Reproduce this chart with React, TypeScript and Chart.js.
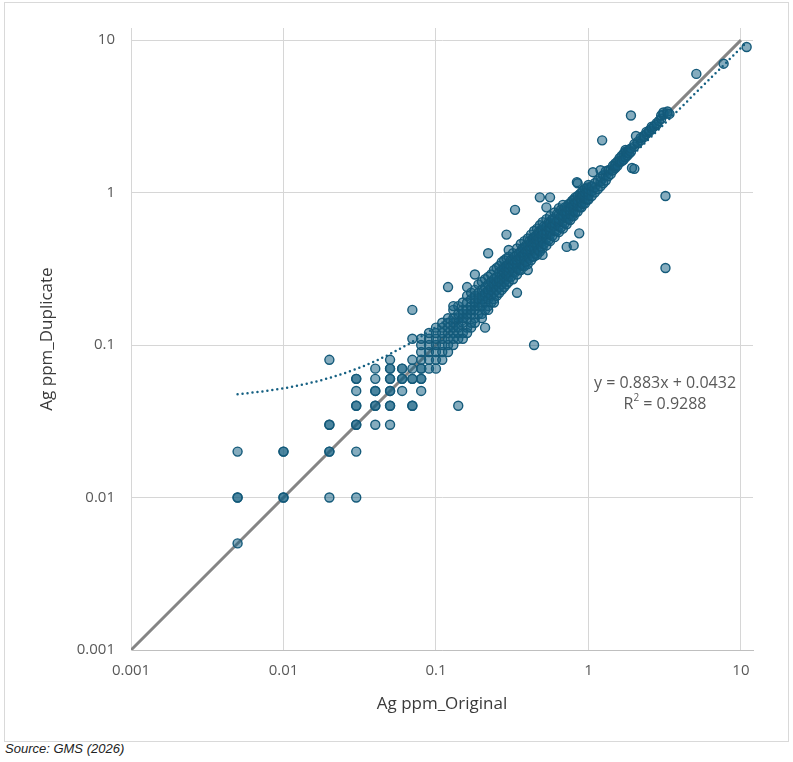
import React from 'react'
import { Chart, registerables } from 'chart.js'

Chart.register(...registerables)

const fontFamily = '"Open Sans", "DejaVu Sans", sans-serif'

// axis ticks (log scale, decades only)
const axisTicks = [0.001, 0.01, 0.1, 1, 10]
const tickLabels = ['0.001', '0.01', '0.1', '1', '10']
const axisMin = 0.001
const axisMax = 12

// low values reported on a coarse lab grid
const lowGridPoints: [number, number][] = [
  [0.005, 0.005], [0.005, 0.01], [0.005, 0.01], [0.005, 0.02],
  [0.01, 0.01], [0.01, 0.01], [0.01, 0.02], [0.01, 0.02],
  [0.02, 0.01], [0.02, 0.02], [0.02, 0.02], [0.02, 0.03], [0.02, 0.03], [0.02, 0.08],
  [0.03, 0.01], [0.03, 0.02], [0.03, 0.03], [0.03, 0.03], [0.03, 0.04], [0.03, 0.04],
  [0.03, 0.05], [0.03, 0.06], [0.03, 0.06],
  [0.04, 0.03], [0.04, 0.04], [0.04, 0.04], [0.04, 0.05], [0.04, 0.05], [0.04, 0.06], [0.04, 0.07],
  [0.05, 0.03], [0.05, 0.04], [0.05, 0.04], [0.05, 0.05], [0.05, 0.05], [0.05, 0.06], [0.05, 0.06],
  [0.05, 0.07], [0.05, 0.07], [0.05, 0.08],
  [0.06, 0.05], [0.06, 0.06], [0.06, 0.06], [0.06, 0.07], [0.06, 0.07],
  [0.07, 0.04], [0.07, 0.04], [0.07, 0.06], [0.07, 0.06], [0.07, 0.07], [0.07, 0.08],
  [0.08, 0.05], [0.08, 0.06], [0.08, 0.07],
]

// main population: original value -> duplicate values
const bandPoints: [number, number[]][] = [
  [0.08, [0.08, 0.09, 0.1, 0.07, 0.11, 0.06]],
  [0.09, [0.08, 0.09, 0.1, 0.11, 0.12, 0.07]],
  [0.1, [0.08, 0.09, 0.1, 0.11, 0.12, 0.13, 0.07]],
  [0.11, [0.09, 0.1, 0.11, 0.12, 0.13, 0.14, 0.08]],
  [0.12, [0.1, 0.11, 0.12, 0.13, 0.14, 0.15, 0.09]],
  [0.13, [0.1, 0.12, 0.13, 0.14, 0.15, 0.17, 0.11]],
  [0.14, [0.11, 0.12, 0.14, 0.15, 0.16, 0.18, 0.13]],
  [0.15, [0.12, 0.14, 0.15, 0.16, 0.17, 0.19, 0.11]],
  [0.16, [0.13, 0.15, 0.16, 0.17, 0.19, 0.21, 0.12]],
  [0.17, [0.14, 0.16, 0.17, 0.18, 0.2, 0.22, 0.13]],
  [0.18, [0.15, 0.17, 0.18, 0.19, 0.21, 0.23, 0.14]],
  [0.19, [0.16, 0.18, 0.19, 0.2, 0.22, 0.25]],
  [0.2, [0.16, 0.18, 0.2, 0.21, 0.23, 0.26, 0.15]],
  [0.21, [0.17, 0.19, 0.21, 0.22, 0.24, 0.27]],
  [0.22, [0.18, 0.2, 0.22, 0.23, 0.25, 0.28, 0.17]],
  [0.23, [0.19, 0.21, 0.23, 0.24, 0.26, 0.29]],
  [0.24, [0.2, 0.22, 0.24, 0.25, 0.27, 0.31, 0.19]],
  [0.25, [0.21, 0.23, 0.25, 0.26, 0.28, 0.32]],
  [0.26, [0.22, 0.24, 0.26, 0.27, 0.3, 0.33]],
  [0.27, [0.23, 0.25, 0.27, 0.29, 0.31, 0.35]],
  [0.28, [0.24, 0.26, 0.28, 0.3, 0.32, 0.36]],
  [0.29, [0.25, 0.27, 0.29, 0.31, 0.33, 0.37]],
  [0.3, [0.26, 0.28, 0.3, 0.32, 0.34, 0.38, 0.42]],
  [0.31, [0.28, 0.33, 0.36]],
  [0.32, [0.27, 0.3, 0.32, 0.34, 0.36, 0.4]],
  [0.33, [0.3, 0.35, 0.38]],
  [0.34, [0.29, 0.32, 0.34, 0.36, 0.39, 0.43]],
  [0.35, [0.31, 0.37, 0.4]],
  [0.36, [0.31, 0.34, 0.36, 0.38, 0.41, 0.46]],
  [0.37, [0.33, 0.39, 0.43]],
  [0.38, [0.33, 0.36, 0.38, 0.4, 0.43, 0.48]],
  [0.39, [0.35, 0.41, 0.45]],
  [0.4, [0.34, 0.38, 0.4, 0.42, 0.45, 0.5, 0.31]],
  [0.41, [0.37, 0.43, 0.48]],
  [0.42, [0.36, 0.4, 0.42, 0.44, 0.47, 0.53]],
  [0.43, [0.38, 0.46, 0.5]],
  [0.44, [0.38, 0.42, 0.44, 0.47, 0.5, 0.56]],
  [0.45, [0.4, 0.48, 0.52]],
  [0.46, [0.39, 0.44, 0.46, 0.49, 0.52, 0.58]],
  [0.47, [0.42, 0.5, 0.55]],
  [0.48, [0.41, 0.46, 0.48, 0.51, 0.55, 0.61]],
  [0.49, [0.44, 0.52, 0.57]],
  [0.5, [0.43, 0.48, 0.5, 0.53, 0.57, 0.64, 0.39]],
  [0.51, [0.46, 0.54, 0.6]],
  [0.53, [0.45, 0.5, 0.53, 0.56, 0.6, 0.67]],
  [0.55, [0.49, 0.58, 0.64]],
  [0.56, [0.48, 0.53, 0.56, 0.59, 0.63, 0.7]],
  [0.58, [0.52, 0.61, 0.67]],
  [0.6, [0.51, 0.56, 0.6, 0.63, 0.67, 0.74]],
  [0.62, [0.56, 0.65, 0.72]],
  [0.64, [0.55, 0.6, 0.64, 0.67, 0.72, 0.79]],
  [0.66, [0.59, 0.7, 0.77]],
  [0.68, [0.58, 0.64, 0.68, 0.71, 0.76, 0.83]],
  [0.7, [0.63, 0.74, 0.8]],
  [0.72, [0.62, 0.68, 0.72, 0.75, 0.8]],
  [0.74, [0.67, 0.78, 0.84]],
  [0.76, [0.66, 0.72, 0.76, 0.8, 0.85]],
  [0.78, [0.7, 0.82, 0.88]],
  [0.8, [0.7, 0.76, 0.8, 0.84, 0.9]],
  [0.82, [0.74, 0.86, 0.93]],
  [0.85, [0.75, 0.81, 0.85, 0.89, 0.95]],
  [0.88, [0.8, 0.92, 0.98]],
  [0.9, [0.8, 0.86, 0.9, 0.95, 1.0]],
  [0.92, [0.84, 0.96, 1.03]],
  [0.95, [0.85, 0.91, 0.95, 1.0, 1.06]],
  [0.98, [0.9, 1.02, 1.08]],
  [1.0, [0.9, 0.96, 1.0, 1.05, 1.12]],
  [1.05, [0.95, 1.02, 1.1]],
  [1.1, [1.0, 1.08, 1.15]],
  [1.15, [1.05, 1.2]],
  [1.2, [1.1, 1.18, 1.26]],
  [1.25, [1.15, 1.3]],
  [1.3, [1.2, 1.3, 1.38]],
  [1.35, [1.28, 1.4]],
  [1.4, [1.32, 1.42]],
  [1.45, [1.4, 1.5]],
  [1.5, [1.45, 1.55, 1.5]],
  [1.55, [1.5, 1.6]],
  [1.6, [1.58, 1.68, 1.62]],
  [1.65, [1.6, 1.74]],
  [1.7, [1.72, 1.8, 1.64]],
  [1.75, [1.7, 1.85, 1.9]],
  [1.8, [1.75, 1.86, 1.82]],
  [1.85, [1.8, 1.9]],
  [1.9, [1.85, 1.95]],
  [2.0, [2.0, 2.08]],
  [2.1, [2.1, 2.15]],
  [2.2, [2.2, 2.28]],
  [2.3, [2.3, 2.35]],
  [2.4, [2.42, 2.5]],
  [2.5, [2.5, 2.55]],
  [2.6, [2.62, 2.7]],
  [2.7, [2.72]],
  [2.8, [2.78, 2.85]],
  [2.9, [2.95]],
  [3.0, [3.05, 3.2]],
  [3.1, [3.25, 3.35]],
  [3.3, [3.3, 3.4]],
  [3.4, [3.28]],
]

// scattered pairs off the main trend
const outlierPoints: [number, number][] = [
  [0.07, 0.17], [0.07, 0.11], [0.12, 0.24], [0.16, 0.24], [0.13, 0.18], [0.18, 0.29],
  [0.21, 0.13], [0.22, 0.4], [0.29, 0.53], [0.34, 0.22], [0.33, 0.77], [0.48, 0.93],
  [0.56, 0.93], [0.53, 0.8], [0.72, 0.44], [0.8, 0.45], [0.87, 0.54], [0.85, 1.15],
  [0.84, 1.17], [1.07, 1.36], [1.2, 1.4], [1.23, 2.2], [1.9, 3.2], [2.05, 2.35],
  [1.93, 1.45], [2.0, 1.43], [3.2, 0.95], [3.2, 0.32], [0.44, 0.1], [0.14, 0.04],
  [5.1, 6.0], [7.7, 7.0], [10.9, 9.0],
]

// 1:1 reference line
const parityX = [0.001, 10]
const parityY = [0.001, 10]

// linear trendline y = 0.883x + 0.0432, read at a few x values
const trendX = [0.005, 0.007, 0.01, 0.015, 0.02, 0.03, 0.04, 0.05, 0.07, 0.1, 0.15, 0.2, 0.3, 0.5, 0.7, 1, 2, 5, 11]
const trendY = [0.0476, 0.0494, 0.052, 0.0565, 0.0609, 0.0697, 0.0785, 0.0874, 0.105, 0.1315, 0.1757, 0.2198, 0.3081, 0.4847, 0.6613, 0.9262, 1.8092, 4.4582, 9.7562]
const trendEquation = 'y = 0.883x + 0.0432'
const trendR2 = '0.9288'

const trendLabelPlugin = {
  id: 'trendLabel',
  afterDatasetsDraw(chart: Chart) {
    const { ctx, chartArea } = chart
    const cx = chartArea.left + 534
    const y1 = chartArea.top + 355
    const y2 = chartArea.top + 376
    ctx.save()
    ctx.fillStyle = '#595959'
    ctx.textBaseline = 'middle'
    ctx.font = `16px ${fontFamily}`
    ctx.textAlign = 'center'
    ctx.fillText(trendEquation, cx, y1)

    // R² = ... with a raised small 2
    const rest = ' = ' + trendR2
    const wR = ctx.measureText('R').width
    const wRest = ctx.measureText(rest).width
    ctx.font = `10px ${fontFamily}`
    const wSup = ctx.measureText('2').width
    let x = cx - (wR + wSup + wRest) / 2
    ctx.textAlign = 'left'
    ctx.font = `16px ${fontFamily}`
    ctx.fillText('R', x, y2)
    x += wR
    ctx.font = `10px ${fontFamily}`
    ctx.fillText('2', x, y2 - 6)
    x += wSup
    ctx.font = `16px ${fontFamily}`
    ctx.fillText(rest, x, y2)
    ctx.restore()
  },
}

const App = () => {
  const ctx = React.useRef<HTMLCanvasElement | null>(null)

  React.useEffect(() => {
    let theChart: Chart | undefined
    if (ctx.current !== null) {
      const points = [
        ...lowGridPoints,
        ...bandPoints.flatMap(([x, ys]) => ys.map((y) => [x, y] as [number, number])),
        ...outlierPoints,
      ].map(([x, y]) => ({ x, y }))

      const tickFont = { family: fontFamily, size: 15 }
      const titleFont = { family: fontFamily, size: 17 }
      const onlyDecades = (scale: any) => {
        scale.ticks = axisTicks.map((v) => ({ value: v }))
      }
      const labelFor = (value: any) => {
        const i = axisTicks.indexOf(Number(value))
        return i >= 0 ? tickLabels[i] : ''
      }

      theChart = new Chart(ctx.current, {
        type: 'scatter',
        data: {
          datasets: [
            {
              label: 'Ag ppm',
              data: points,
              pointRadius: 4.5,
              pointBackgroundColor: 'rgba(21, 96, 130, 0.52)',
              pointBorderColor: '#145a7a',
              pointBorderWidth: 1.4,
              order: 0,
            },
            {
              type: 'line',
              label: 'Trend',
              data: trendX.map((x, i) => ({ x, y: trendY[i] })),
              borderColor: '#156082',
              borderWidth: 2.5,
              borderDash: [0, 5],
              borderCapStyle: 'round',
              cubicInterpolationMode: 'monotone',
              pointRadius: 0,
              fill: false,
              order: 1,
            } as any,
            {
              type: 'line',
              label: '1:1',
              data: parityX.map((x, i) => ({ x, y: parityY[i] })),
              borderColor: '#858585',
              borderWidth: 3,
              pointRadius: 0,
              fill: false,
              order: 2,
            } as any,
          ],
        },
        options: {
          animation: false,
          responsive: true,
          maintainAspectRatio: false,
          layout: { padding: { top: 25, right: 35, left: 0, bottom: 0 } },
          plugins: {
            legend: { display: false },
            tooltip: { enabled: false },
          },
          scales: {
            x: {
              type: 'logarithmic',
              min: axisMin,
              max: axisMax,
              afterBuildTicks: onlyDecades,
              afterFit: (scale: any) => {
                scale.height = 91
              },
              grid: { color: '#d6d6d6', drawTicks: false },
              border: { color: '#bfbfbf', width: 1 },
              ticks: {
                padding: 12,
                color: '#595959',
                font: tickFont,
                autoSkip: false,
                maxRotation: 0,
                callback: labelFor,
              },
              title: {
                display: true,
                text: 'Ag ppm_Original',
                color: '#3a3a3a',
                font: titleFont,
                padding: { top: 0, bottom: 27 },
              },
            },
            y: {
              type: 'logarithmic',
              min: axisMin,
              max: axisMax,
              afterBuildTicks: onlyDecades,
              afterFit: (scale: any) => {
                scale.width = 126
              },
              grid: { color: '#d6d6d6', drawTicks: false },
              border: { color: '#d6d6d6', width: 1 },
              ticks: {
                padding: 16,
                color: '#595959',
                font: tickFont,
                autoSkip: false,
                callback: labelFor,
              },
              title: {
                display: true,
                text: 'Ag ppm_Duplicate',
                color: '#3a3a3a',
                font: titleFont,
                padding: { top: 32, bottom: 0 },
              },
            },
          },
        } as any,
        plugins: [trendLabelPlugin],
      })
    }
    return () => {
      if (theChart) {
        theChart.destroy()
      }
    }
  }, [])

  return (
    <div style={{ position: 'absolute', left: 0, top: 0, width: 793, height: 762, background: '#fff' }}>
      <div
        style={{
          position: 'absolute',
          left: 4,
          top: 2,
          width: 785,
          height: 740,
          boxSizing: 'border-box',
          border: '1px solid #d9d9d9',
        }}
      >
        <div style={{ position: 'relative', width: 783, height: 738 }}>
          <canvas ref={ctx}></canvas>
        </div>
      </div>
      <div
        style={{
          position: 'absolute',
          left: 5,
          top: 741,
          fontFamily: '"Liberation Sans", Arial, sans-serif',
          fontStyle: 'italic',
          fontSize: 13,
          color: '#222',
          lineHeight: '16px',
        }}
      >
        Source: GMS (2026)
      </div>
    </div>
  )
}

export default App
